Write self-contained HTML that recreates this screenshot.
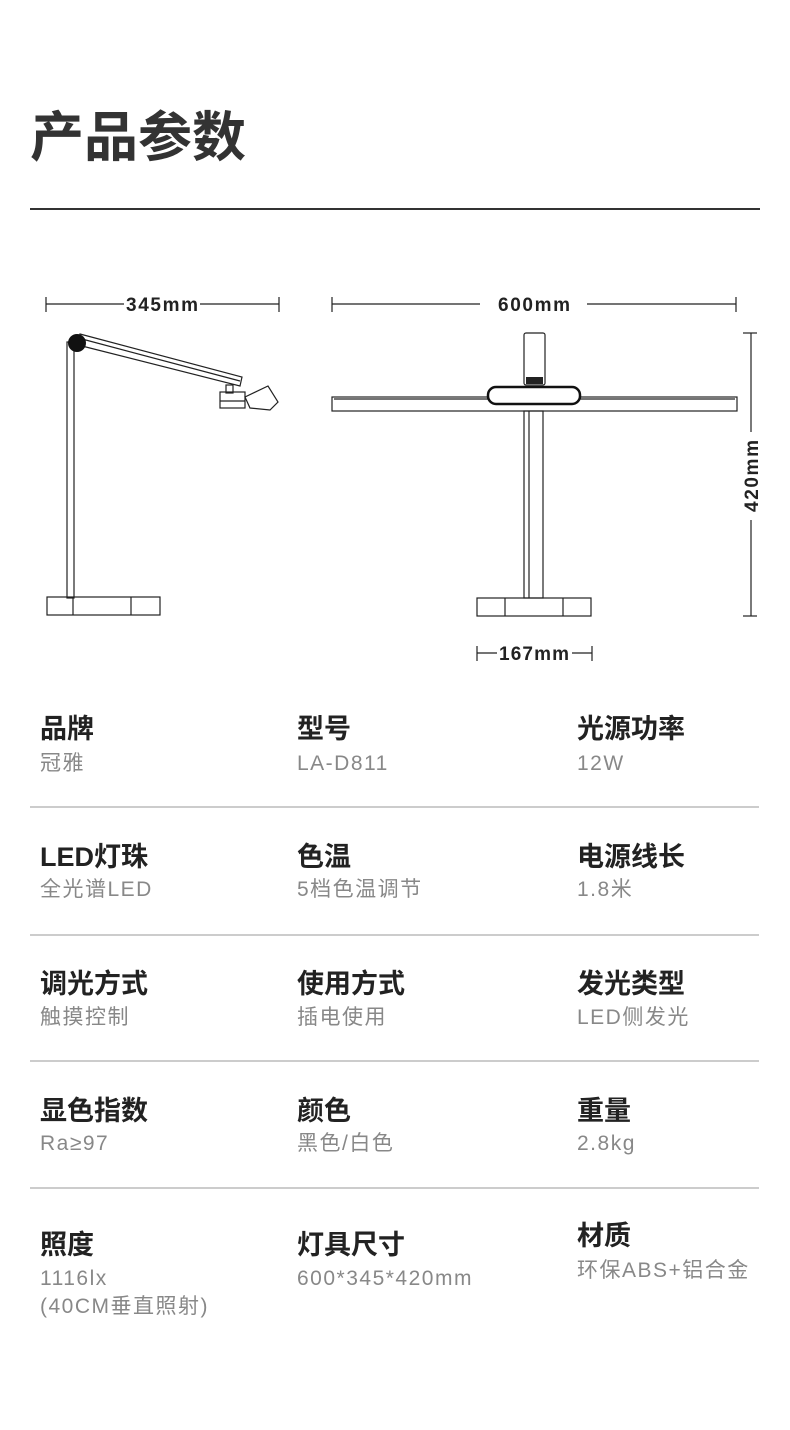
<!DOCTYPE html>
<html><head><meta charset="utf-8"><style>
*{margin:0;padding:0;box-sizing:border-box}
body{width:790px;height:1430px;background:#fff;position:relative;overflow:hidden;font-family:"Liberation Sans","Noto Sans CJK SC",sans-serif}
.t{position:absolute;white-space:nowrap;line-height:1}
.l{font-size:27px;font-weight:bold;color:#222}
.v{font-size:21px;color:#888;letter-spacing:1.5px}
.hr{position:absolute;left:30px;width:729px;height:2px;background:#ccc}
</style></head><body>
<div class="t" style="left:30px;top:111px;font-size:54px;font-weight:bold;color:#333">产品参数</div>
<div style="position:absolute;left:30px;top:208px;width:730px;height:2px;background:#333"></div>

<svg style="position:absolute;left:0;top:0" width="790" height="700" viewBox="0 0 790 700">
<g stroke="#222" stroke-width="1.2" fill="none">
<line x1="46" y1="304" x2="124" y2="304"/><line x1="200" y1="304" x2="279" y2="304"/>
<line x1="46" y1="297" x2="46" y2="312"/><line x1="279" y1="297" x2="279" y2="312"/>
<rect x="67" y="342" width="7" height="256"/>
<polygon points="80,334 242,377 240,386 78,345"/>
<line x1="82" y1="339" x2="240" y2="381"/>
<rect x="226" y="385" width="7" height="8"/>
<rect x="220" y="392" width="25" height="16"/>
<line x1="220" y1="401" x2="245" y2="401"/>
<polygon points="245,397 268,386 278,402 270,410 250,408"/>
<rect x="47" y="597" width="113" height="18"/>
<line x1="73" y1="597" x2="73" y2="615"/><line x1="131" y1="597" x2="131" y2="615"/>
<line x1="332" y1="304" x2="480" y2="304"/><line x1="587" y1="304" x2="736" y2="304"/>
<line x1="332" y1="297" x2="332" y2="312"/><line x1="736" y1="297" x2="736" y2="312"/>
<line x1="751" y1="333" x2="751" y2="432"/><line x1="751" y1="520" x2="751" y2="616"/>
<line x1="743" y1="333" x2="757" y2="333"/><line x1="743" y1="616" x2="757" y2="616"/>
<line x1="477" y1="653" x2="497" y2="653"/><line x1="572" y1="653" x2="592" y2="653"/>
<line x1="477" y1="646" x2="477" y2="661"/><line x1="592" y1="646" x2="592" y2="661"/>
<rect x="332" y="397" width="405" height="14"/>
<line x1="334" y1="399" x2="735" y2="399"/>
<rect x="524" y="333" width="21" height="52" rx="2"/>
<rect x="524" y="411" width="19" height="187"/>
<line x1="529" y1="411" x2="529" y2="598"/>
<rect x="477" y="598" width="114" height="18"/>
<line x1="505" y1="598" x2="505" y2="616"/><line x1="563" y1="598" x2="563" y2="616"/>
</g>
<circle cx="77" cy="343" r="9" fill="#111"/>
<rect x="488" y="387" width="92" height="17" rx="8" fill="#fff" stroke="#111" stroke-width="2.5"/>
<rect x="526" y="377" width="17" height="7" fill="#222"/>
<g font-family="Liberation Sans" font-weight="bold" font-size="19" fill="#222">
<text x="162" y="311" text-anchor="middle" textLength="72">345mm</text>
<text x="534" y="311" text-anchor="middle" textLength="72">600mm</text>
<text x="534" y="660" text-anchor="middle" textLength="70">167mm</text>
<text transform="translate(758,476) rotate(-90)" text-anchor="middle" textLength="72">420mm</text>
</g>
</svg>

<div class="t l" style="left:40px;top:716px">品牌</div><div class="t v" style="left:40px;top:753px">冠雅</div>
<div class="t l" style="left:297px;top:716px">型号</div><div class="t v" style="left:297px;top:753px">LA-D811</div>
<div class="t l" style="left:577px;top:716px">光源功率</div><div class="t v" style="left:577px;top:753px">12W</div>
<div class="hr" style="top:806px"></div>
<div class="t l" style="left:40px;top:844px">LED灯珠</div><div class="t v" style="left:40px;top:879px">全光谱LED</div>
<div class="t l" style="left:297px;top:844px">色温</div><div class="t v" style="left:297px;top:879px">5档色温调节</div>
<div class="t l" style="left:577px;top:844px">电源线长</div><div class="t v" style="left:577px;top:879px">1.8米</div>
<div class="hr" style="top:934px"></div>
<div class="t l" style="left:40px;top:971px">调光方式</div><div class="t v" style="left:40px;top:1007px">触摸控制</div>
<div class="t l" style="left:297px;top:971px">使用方式</div><div class="t v" style="left:297px;top:1007px">插电使用</div>
<div class="t l" style="left:577px;top:971px">发光类型</div><div class="t v" style="left:577px;top:1007px">LED侧发光</div>
<div class="hr" style="top:1060px"></div>
<div class="t l" style="left:40px;top:1098px">显色指数</div><div class="t v" style="left:40px;top:1133px">Ra≥97</div>
<div class="t l" style="left:297px;top:1098px">颜色</div><div class="t v" style="left:297px;top:1133px">黑色/白色</div>
<div class="t l" style="left:577px;top:1098px">重量</div><div class="t v" style="left:577px;top:1133px">2.8kg</div>
<div class="hr" style="top:1187px"></div>
<div class="t l" style="left:40px;top:1232px">照度</div><div class="t v" style="left:40px;top:1268px">1116lx</div><div class="t v" style="left:40px;top:1296px">(40CM垂直照射)</div>
<div class="t l" style="left:297px;top:1232px">灯具尺寸</div><div class="t v" style="left:297px;top:1268px">600*345*420mm</div>
<div class="t l" style="left:577px;top:1223px">材质</div><div class="t v" style="left:577px;top:1260px">环保ABS+铝合金</div>
</body></html>
